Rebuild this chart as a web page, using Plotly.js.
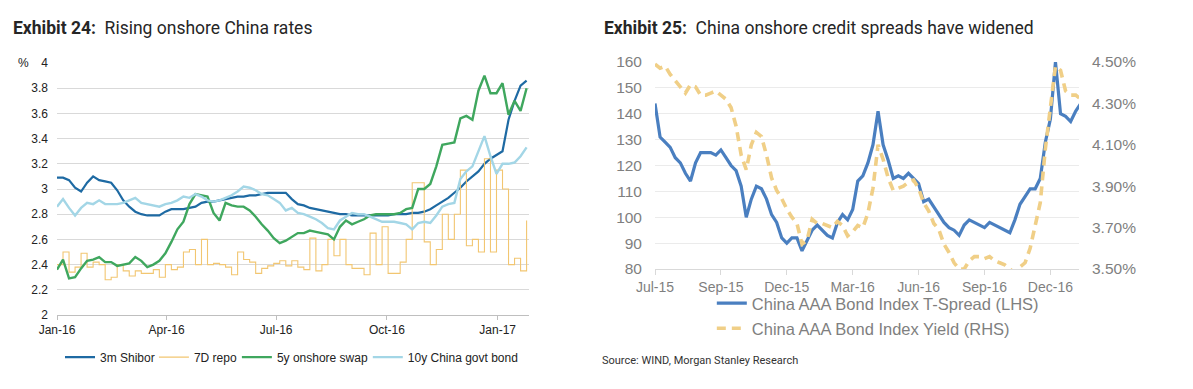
<!DOCTYPE html>
<html>
<head>
<meta charset="utf-8">
<script src="https://cdn.plot.ly/plotly-3.0.1.min.js"></script>
<style>
  html, body { margin:0; padding:0; background:#ffffff; overflow:hidden; }
  #c1 { position:absolute; left:0; top:0; width:590px; height:389px; }
  #c2 { position:absolute; left:590px; top:0; width:603px; height:389px; }
</style>
</head>
<body>
<div id="c1"></div>
<div id="c2"></div>
<script>
// ---------- Exhibit 24 data (sampled every 5 days from 1 Jan 2016) ----------
const ratesStart = '2016-01-01';
const ratesStepDays = 5;
const shibor3m = [3.09,3.09,3.07,3.01,2.98,3.05,3.10,3.07,3.06,3.05,
  2.99,2.91,2.86,2.82,2.80,2.79,2.79,2.79,2.82,2.84,
  2.84,2.84,2.85,2.86,2.89,2.90,2.90,2.91,2.92,2.93,
  2.94,2.94,2.95,2.95,2.96,2.97,2.97,2.97,2.97,2.92,
  2.88,2.87,2.85,2.84,2.83,2.82,2.81,2.80,2.80,2.79,
  2.79,2.79,2.79,2.79,2.79,2.79,2.80,2.80,2.80,2.81,
  2.81,2.82,2.84,2.87,2.90,2.93,2.97,3.01,3.06,3.10,
  3.14,3.20,3.24,3.27,3.30,3.55,3.70,3.82,3.86];
const repo7d = [2.40,2.50,2.34,2.38,2.49,2.38,2.42,2.40,2.28,2.30,
  2.40,2.35,2.31,2.35,2.33,2.33,2.36,2.30,2.40,2.36,
  2.38,2.50,2.52,2.40,2.60,2.40,2.41,2.40,2.38,2.32,
  2.50,2.44,2.42,2.33,2.37,2.39,2.41,2.43,2.39,2.43,
  2.38,2.36,2.61,2.35,2.40,2.60,2.47,2.60,2.40,2.37,
  2.37,2.32,2.65,2.40,2.70,2.33,2.33,2.42,2.60,3.05,
  3.05,2.58,2.40,2.52,2.80,2.60,2.80,3.15,2.55,2.60,
  2.50,3.24,2.50,3.15,3.00,2.40,2.45,2.35,2.75];
const swap5y = [2.36,2.44,2.29,2.30,2.37,2.43,2.44,2.46,2.42,2.42,
  2.39,2.40,2.41,2.46,2.43,2.38,2.40,2.43,2.49,2.58,
  2.68,2.74,2.88,2.96,2.95,2.94,2.81,2.75,2.89,2.87,
  2.86,2.86,2.83,2.78,2.72,2.67,2.61,2.57,2.59,2.62,
  2.65,2.65,2.67,2.66,2.65,2.64,2.60,2.70,2.75,2.72,
  2.74,2.76,2.79,2.80,2.80,2.80,2.80,2.81,2.84,2.85,
  3.00,3.00,3.04,3.18,3.35,3.36,3.37,3.56,3.58,3.55,
  3.78,3.90,3.76,3.76,3.84,3.59,3.70,3.62,3.80];
const govt10y = [2.86,2.92,2.85,2.79,2.85,2.89,2.88,2.91,2.88,2.88,
  2.88,2.89,2.91,2.93,2.89,2.88,2.87,2.86,2.88,2.89,
  2.91,2.94,2.93,2.96,2.94,2.91,2.90,2.91,2.93,2.95,
  2.98,3.02,3.01,2.99,2.96,2.95,2.92,2.89,2.83,2.85,
  2.81,2.80,2.78,2.76,2.73,2.69,2.68,2.75,2.78,2.81,
  2.80,2.80,2.78,2.76,2.74,2.74,2.74,2.73,2.72,2.68,
  2.73,2.74,2.73,2.79,2.86,2.88,2.89,3.08,3.14,3.18,
  3.30,3.42,3.26,3.12,3.20,3.20,3.21,3.26,3.33];
const ratesTickDates = ['2016-01-01','2016-04-01','2016-07-01','2016-10-01','2017-01-01'];
const ratesTickLabels = ['Jan-16','Apr-16','Jul-16','Oct-16','Jan-17'];

// ---------- Exhibit 25 data (weekly from 1 Jul 2015) ----------
const creditStart = '2015-07-01';
const creditStepDays = 7;
const aaaSpread = [144,131,129,127,123,121,117,114,121,125,
  125,125,124,126,123,120,118,112,100,107,
  112,111,107,101,98,92,90,92,92,87,
  91,95,97,95,93,92,98,101,99,103,
  114,116,121,128,141,128,122,115,116,115,
  117,115,113,106,107,104,101,98,96,95,
  93,97,99,98,97,96,98,97,96,95,
  94,99,105,108,111,111,115,129,138,160,
  140,139,137,141,144];
const aaaYield = [4.49,4.47,4.48,4.44,4.41,4.38,4.35,4.39,4.38,4.34,
  4.34,4.35,4.36,4.34,4.32,4.28,4.19,4.05,3.98,4.10,
  4.16,4.14,4.05,3.94,3.88,3.84,3.79,3.75,3.72,3.62,
  3.64,3.74,3.72,3.72,3.71,3.70,3.73,3.71,3.66,3.68,
  3.71,3.70,3.77,3.89,4.10,4.03,3.94,3.88,3.89,3.90,
  3.92,3.93,3.89,3.82,3.78,3.72,3.69,3.62,3.58,3.53,
  3.50,3.50,3.54,3.56,3.56,3.55,3.56,3.54,3.53,3.52,
  3.50,3.48,3.51,3.53,3.60,3.71,3.82,4.08,4.28,4.48,
  4.46,4.36,4.34,4.34,4.32];
const creditTickDates = ['2015-07-01','2015-09-30','2015-12-30','2016-03-30','2016-06-29','2016-09-28','2016-12-28'];
const creditTickLabels = ['Jul-15','Sep-15','Dec-15','Mar-16','Jun-16','Sep-16','Dec-16'];

const DAY = 86400000;
const axisFont = {family:'Liberation Sans, Arial, sans-serif', size:12, color:'#222222'};
const greyFont = {family:'Liberation Sans, Arial, sans-serif', size:15.5, color:'#7f7f7f'};
const legFont2 = {family:'Liberation Sans, Arial, sans-serif', size:16.5, color:'#7f7f7f'};
const titleFont = {family:'Roboto, sans-serif', size:17.5, color:'#262626'};

function leg1(xPaper) {
  return {orientation:'h', x:xPaper, xanchor:'left', y:-0.167, yanchor:'middle',
          font:axisFont, bgcolor:'rgba(0,0,0,0)'};
}
function leg2(yPaper) {
  return {orientation:'v', x:0.134, xanchor:'left', y:yPaper, yanchor:'middle',
          font:legFont2, bgcolor:'rgba(0,0,0,0)'};
}

// ---------- Chart 1 ----------
const t1 = [
  {name:'3m Shibor', y:shibor3m, x0:ratesStart, dx:ratesStepDays*DAY, mode:'lines',
   line:{color:'#1e6aa3', width:2.2}, legend:'legend'},
  {name:'7D repo', y:repo7d, x0:ratesStart, dx:ratesStepDays*DAY, mode:'lines',
   line:{color:'#f2c671', width:1.1, shape:'hv'}, legend:'legend2'},
  {name:'5y onshore swap', y:swap5y, x0:ratesStart, dx:ratesStepDays*DAY, mode:'lines',
   line:{color:'#3fa75e', width:2.4}, legend:'legend3'},
  {name:'10y China govt bond', y:govt10y, x0:ratesStart, dx:ratesStepDays*DAY, mode:'lines',
   line:{color:'#a3d6e6', width:2.4}, legend:'legend4'}
];
const l1 = {
  width:590, height:389,
  margin:{l:57, r:61, t:63, b:74},
  paper_bgcolor:'#ffffff', plot_bgcolor:'#ffffff',
  title:{text:'<b>Exhibit 24:</b>\u00a0 Rising onshore China rates', font:titleFont,
         xref:'container', yref:'container', x:13/590, xanchor:'left', y:1-28/389, yanchor:'middle'},
  xaxis:{type:'date', range:['2016-01-01','2017-01-27'], tickvals:ratesTickDates, ticktext:ratesTickLabels,
         showgrid:false, showline:true, linecolor:'#bfbfbf', linewidth:1, ticks:'outside', tickcolor:'#bfbfbf',
         ticklen:4, tickfont:axisFont, zeroline:false, fixedrange:true},
  yaxis:{range:[2,4], tick0:2, dtick:0.2, showgrid:true, gridcolor:'#d9d9d9', gridwidth:1,
         zeroline:false, showline:false, ticks:'', tickfont:axisFont, ticklabelstandoff:8, fixedrange:true},
  showlegend:true,
  legend:leg1((60-57)/472.3),
  legend2:leg1((154-57)/472.3),
  legend3:leg1((237-57)/472.3),
  legend4:leg1((368-57)/472.3),
  annotations:[{text:'%', xref:'paper', yref:'paper', x:-0.072, y:1, xanchor:'center', yanchor:'middle',
                showarrow:false, font:axisFont}],
  hovermode:false
};

// ---------- Chart 2 ----------
const t2 = [
  {name:'China AAA Bond Index T-Spread (LHS)', y:aaaSpread, x0:creditStart, dx:creditStepDays*DAY,
   mode:'lines', line:{color:'#4a7fc0', width:3.2}, yaxis:'y', legend:'legend'},
  {name:'China AAA Bond Index Yield (RHS)', y:aaaYield, x0:creditStart, dx:creditStepDays*DAY,
   mode:'lines', line:{color:'#f0cf87', width:3.6, dash:'9px,6px'}, yaxis:'y2', legend:'legend2'}
];
const l2 = {
  width:603, height:389,
  margin:{l:65, r:114, t:62, b:120},
  paper_bgcolor:'#ffffff', plot_bgcolor:'#ffffff',
  title:{text:'<b>Exhibit 25:</b>\u00a0 China onshore credit spreads have widened', font:titleFont,
         xref:'container', yref:'container', x:14/603, xanchor:'left', y:1-28/389, yanchor:'middle'},
  xaxis:{type:'date', range:['2015-07-01','2017-02-05 12:00'], tickvals:creditTickDates, ticktext:creditTickLabels,
         showgrid:false, showline:true, linecolor:'#d9d9d9', ticks:'outside', tickcolor:'#d9d9d9', ticklen:5,
         tickfont:{family:greyFont.family, size:14, color:'#7f7f7f'}, zeroline:false, fixedrange:true},
  yaxis:{range:[80,160], tick0:80, dtick:10, showgrid:true, gridcolor:'#ebebeb', zeroline:false,
         showline:false, ticks:'', tickfont:greyFont, ticklabelstandoff:12, fixedrange:true},
  yaxis2:{overlaying:'y', side:'right', range:[3.5,4.5], tick0:3.5, dtick:0.2, tickformat:'.2f', ticksuffix:'%',
          showgrid:false, zeroline:false, showline:false, ticks:'', tickfont:greyFont, ticklabelstandoff:12,
          fixedrange:true},
  showlegend:true,
  legend:leg2((268.7-303)/206.4),
  legend2:leg2((268.7-328)/206.4),
  annotations:[{text:'Source: WIND, Morgan Stanley Research', xref:'paper', yref:'paper',
                x:(10-65)/424, y:(268.7-360)/206.4, xanchor:'left', yanchor:'middle', showarrow:false,
                font:{family:'Roboto, sans-serif', size:11, color:'#333333'}}],
  hovermode:false
};

const cfg = {staticPlot:true, displayModeBar:false};
Plotly.newPlot('c1', t1, l1, cfg);
Plotly.newPlot('c2', t2, l2, cfg);
</script>
</body>
</html>
